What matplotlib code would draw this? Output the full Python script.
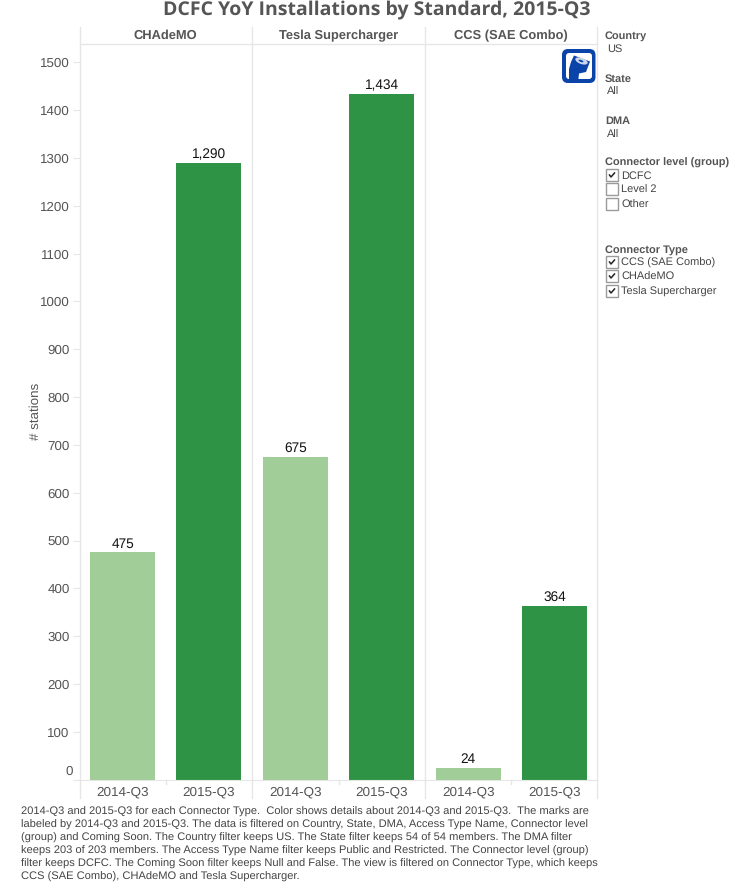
import matplotlib
matplotlib.use("Agg")
import matplotlib.pyplot as plt
from matplotlib.patches import FancyBboxPatch, Rectangle, Polygon, Ellipse
from matplotlib.lines import Line2D

plt.rcParams["font.family"] = ["Liberation Sans", "DejaVu Sans"]
plt.rcParams["text.hinting"] = "no_hinting"

# Chart data
connectors = ["CHAdeMO", "Tesla Supercharger", "CCS (SAE Combo)"]
quarters = ["2014-Q3", "2015-Q3"]
stations_2014 = [475, 675, 24]
stations_2015 = [1290, 1434, 364]
yticks = list(range(0, 1600, 100))

footnote = [
    "2014-Q3 and 2015-Q3 for each Connector Type.  Color shows details about 2014-Q3 and 2015-Q3.  The marks are",
    "labeled by 2014-Q3 and 2015-Q3. The data is filtered on Country, State, DMA, Access Type Name, Connector level",
    "(group) and Coming Soon. The Country filter keeps US. The State filter keeps 54 of 54 members. The DMA filter",
    "keeps 203 of 203 members. The Access Type Name filter keeps Public and Restricted. The Connector level (group)",
    "filter keeps DCFC. The Coming Soon filter keeps Null and False. The view is filtered on Connector Type, which keeps",
    "CCS (SAE Combo), CHAdeMO and Tesla Supercharger.",
]

W, H = 745, 888
LIGHT = "#a0cd98"
DARK = "#2f9346"
GRID = "#e6e6e6"
TEXT = "#555555"

fig = plt.figure(figsize=(W / 100, H / 100), dpi=100, facecolor="white")


# pixel box (top left origin) to figure axes
def px_axes(x0, y0, x1, y1):
    return fig.add_axes([x0 / W, 1 - y1 / H, (x1 - x0) / W, (y1 - y0) / H])


# overlay for anything placed by pixel position
bg = fig.add_axes([0, 0, 1, 1])
bg.set_xlim(0, W)
bg.set_ylim(H, 0)
bg.axis("off")


def hline(x0, x1, y, color=GRID, lw=1.0):
    bg.add_line(Line2D([x0, x1], [y, y], color=color, lw=lw))


def vline(x, y0, y1, color=GRID, lw=1.0):
    bg.add_line(Line2D([x, x], [y0, y1], color=color, lw=lw))


panel_edges = [79.5, 252, 425, 597.5]
y_top = 44
y_bottom = 779.5
ymax = (y_bottom - y_top) / 0.478

for i, name in enumerate(connectors):
    ax = px_axes(panel_edges[i], y_top, panel_edges[i + 1], y_bottom)
    ax.patch.set_alpha(0)
    vals = [stations_2014[i], stations_2015[i]]
    bars = ax.bar([0, 1], vals, width=0.755, color=[LIGHT, DARK], zorder=2)
    ax.set_xlim(-0.5, 1.5)
    ax.set_ylim(0, ymax)
    ax.set_xticks([0, 1])
    ax.set_xticklabels(quarters, fontsize=9.7, color=TEXT)
    ax.tick_params(axis="x", length=0, pad=5)
    for s in ["top", "right", "left"]:
        ax.spines[s].set_visible(False)
    ax.spines["bottom"].set_color(GRID)
    if i == 0:
        ax.set_yticks(yticks)
        # the zero label sits a little above its tick in the reference, drawn below
        ax.set_yticklabels([""] + [str(t) for t in yticks[1:]], fontsize=9.6, color=TEXT)
        ax.tick_params(axis="y", length=5, color=GRID, pad=2)
        ax.set_ylabel("# stations", fontsize=9.6, color=TEXT)
        ax.yaxis.set_label_coords((42 - panel_edges[0]) / (panel_edges[1] - panel_edges[0]), 0.5)
        bg.text(73, 772, str(yticks[0]), ha="right", va="center", fontsize=9.6, color=TEXT)
    else:
        ax.set_yticks([])
    for b, v in zip(bars, vals):
        ax.text(b.get_x() + b.get_width() / 2, v + 4, f"{v:,}", ha="center",
                va="bottom", fontsize=9.8, color="#111111")
    bg.text((panel_edges[i] + panel_edges[i + 1]) / 2, 36, name, ha="center",
            va="center", fontsize=9.3, fontweight="bold", color=TEXT)

# Panel frame lines
for x in [80, 252, 425, 597]:
    vline(x, 27, 798)
hline(80, 597, y_top)
for i in range(3):
    m = (panel_edges[i] + panel_edges[i + 1]) / 2
    vline(m, 780, 784)

# Title
bg.text(376.5, 10, "DCFC YoY Installations by Standard, 2015-Q3", ha="center", va="center",
        fontsize=14, fontweight="bold", color=TEXT, family="Open Sans")

# Footnote
for k, line in enumerate(footnote):
    bg.text(21, 811 + k * 13, line, ha="left", va="center_baseline", fontsize=8.02, color="#444444")

# Filter sidebar
lx = 605


def side_title(y, s):
    bg.text(lx, y, s, ha="left", va="center_baseline", fontsize=7.9, fontweight="bold", color=TEXT)


def side_value(y, s):
    bg.text(lx + 2, y, s, ha="left", va="center_baseline", fontsize=7.9, color="#444444")


def checkbox(y, s, checked):
    bg.add_patch(Rectangle((606, y - 6), 12, 12, fc="white", ec="#9a9a9a", lw=1))
    if checked:
        bg.add_line(Line2D([609.5, 611, 614.5], [y, y + 2, y - 2], color="#222222", lw=1.1))
    bg.text(621, y, s, ha="left", va="center_baseline", fontsize=7.9, color="#444444")


side_title(35, "Country")
side_value(48, "US")
side_title(78, "State")
side_value(90, "All")
side_title(120, "DMA")
side_value(133, "All")
side_title(162, "Connector level (group)")
checkbox(175, "DCFC", True)
checkbox(189, "Level 2", False)
checkbox(204, "Other", False)
side_title(249, "Connector Type")
checkbox(262, "CCS (SAE Combo)", True)
checkbox(276, "CHAdeMO", True)
checkbox(291, "Tesla Supercharger", True)

# Plug logo
BLUE = "#0a44a8"
bg.add_patch(FancyBboxPatch((562, 49), 33.5, 34, boxstyle="round,pad=0,rounding_size=6",
                            fc=BLUE, ec="none"))
bg.add_patch(FancyBboxPatch((566, 53), 26, 26, boxstyle="round,pad=0,rounding_size=3",
                            fc="white", ec="none"))
bg.add_patch(Polygon([(574, 55.5), (590, 61.5), (586, 72), (579, 73.5), (578, 83), (569, 83),
                      (569, 69), (571, 62)], closed=True, fc=BLUE, ec="none"))
bg.add_patch(Ellipse((581.5, 61), 13, 6, angle=20, fc="#c9d6ec", ec="none"))
bg.add_patch(Ellipse((581, 61), 5, 2, angle=20, fc=BLUE, ec="none"))

fig.savefig("out.png", dpi=100)
